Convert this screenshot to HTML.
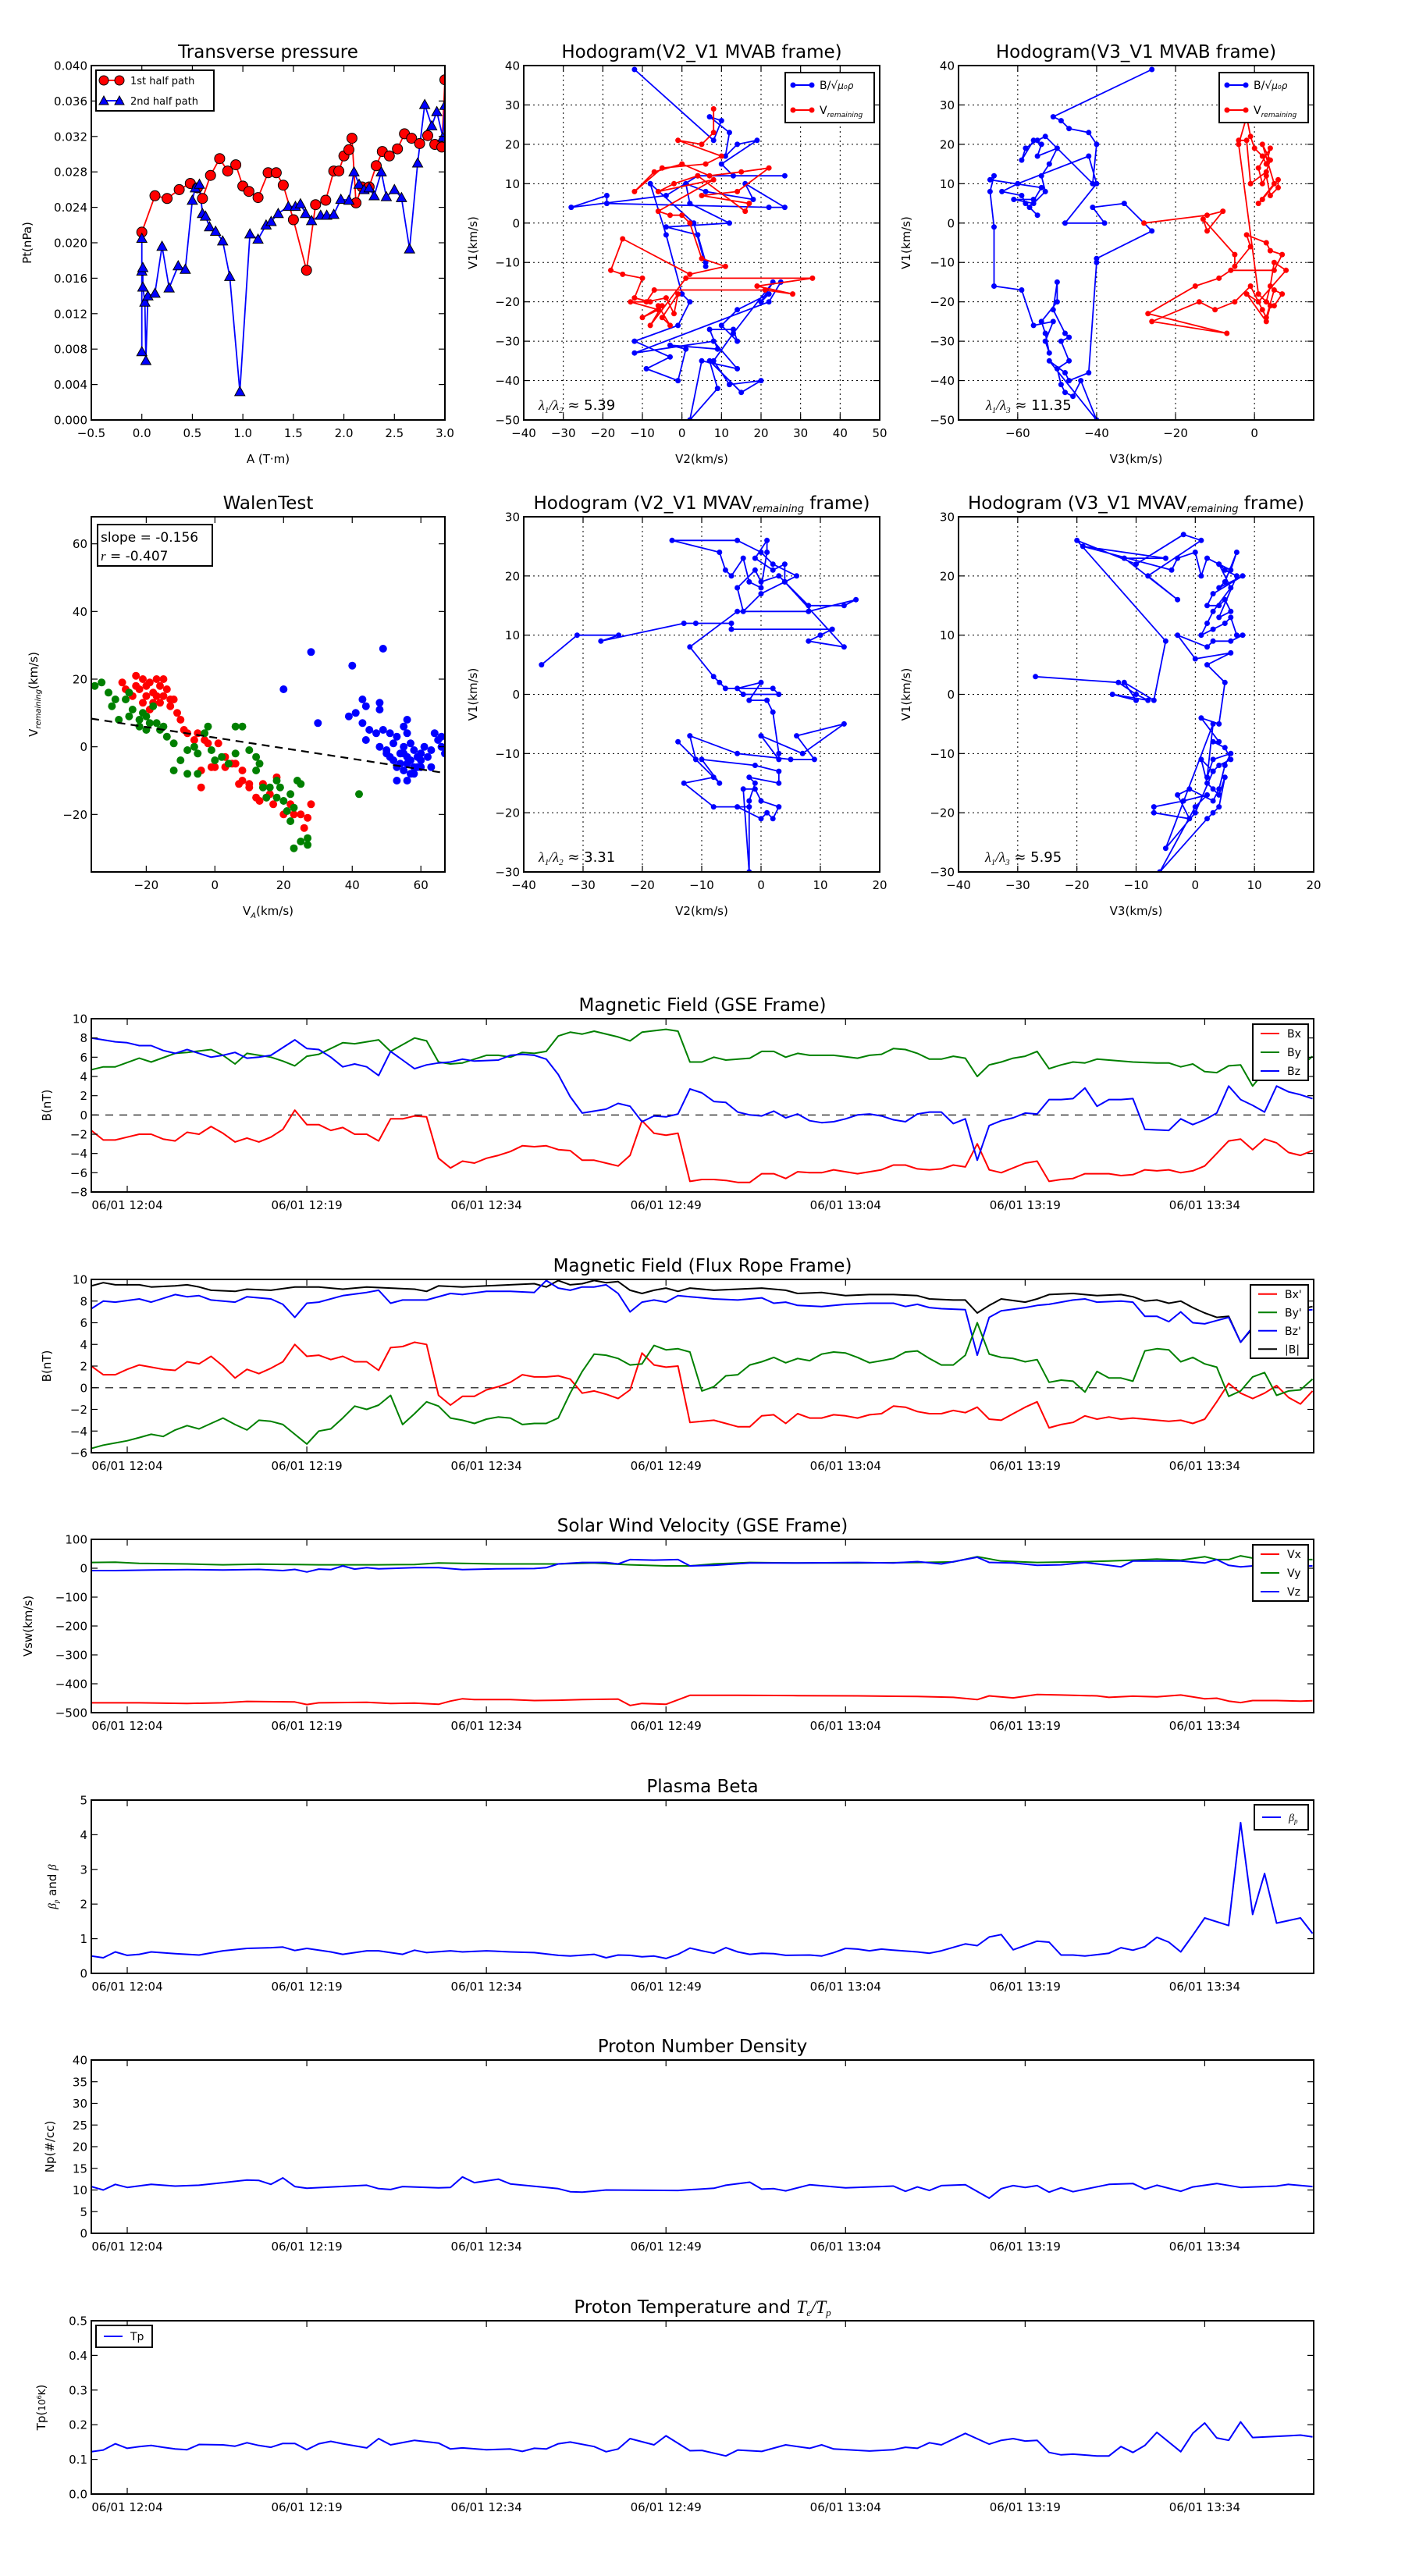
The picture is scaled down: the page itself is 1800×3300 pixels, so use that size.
<!DOCTYPE html>
<html><head><meta charset="utf-8"><title>Flux rope analysis</title>
<style>
html,body{margin:0;padding:0;background:#fff;}
svg{display:block;font-family:"DejaVu Sans","Liberation Sans",sans-serif;}
</style></head>
<body>
<svg id="fig" xmlns="http://www.w3.org/2000/svg" width="1800" height="3300" viewBox="0 0 1800 3300"></svg>
<script>
// ---------- DATA ----------
const ptFirstA=[0,0.13,0.25,0.37,0.48,0.55,0.6,0.68,0.77,0.85,0.93,1.0,1.06,1.15,1.25,1.33,1.4,1.5,1.63,1.72,1.82,1.9,1.95,2.0,2.05,2.08,2.12,2.18,2.25,2.32,2.38,2.45,2.53,2.6,2.67,2.75,2.83,2.9,2.97,3.0];
const ptFirstP=[0.0212,0.0253,0.025,0.026,0.0267,0.0262,0.025,0.0276,0.0295,0.0281,0.0288,0.0264,0.0258,0.0251,0.0279,0.0279,0.0265,0.0226,0.0169,0.0243,0.0248,0.0281,0.0281,0.0298,0.0305,0.0318,0.0245,0.0263,0.0263,0.0287,0.0303,0.0298,0.0306,0.0323,0.0318,0.0312,0.0321,0.0311,0.0308,0.0384];
const ptSecondA=[0,0,0,0.01,0.01,0.03,0.04,0.06,0.13,0.2,0.27,0.36,0.43,0.5,0.53,0.57,0.6,0.63,0.67,0.73,0.8,0.87,0.97,1.07,1.15,1.23,1.28,1.35,1.45,1.52,1.57,1.62,1.68,1.77,1.83,1.9,1.97,2.05,2.1,2.15,2.2,2.25,2.3,2.37,2.42,2.5,2.57,2.65,2.73,2.8,2.87,2.92,2.98,3.0];
const ptSecondP=[0.0077,0.0205,0.0168,0.0172,0.015,0.0133,0.0067,0.014,0.0143,0.0196,0.0149,0.0174,0.017,0.0248,0.0262,0.0266,0.0233,0.023,0.0218,0.0213,0.0202,0.0162,0.0032,0.021,0.0204,0.022,0.0224,0.0233,0.0241,0.0241,0.0244,0.0233,0.0225,0.0231,0.0231,0.0232,0.0249,0.0248,0.028,0.0266,0.026,0.0262,0.0253,0.028,0.0252,0.026,0.0251,0.0193,0.029,0.0356,0.0332,0.0348,0.0319,0.0355];

const hodoB21=[[-12,39],[8,21],[10,26],[7,27],[12,23],[11,17],[14,20],[19,21],[10,15],[13,12],[26,12],[4,12],[-4,7],[-28,4],[-19,7],[-19,5],[22,4],[26,4],[16,10],[18,6],[6,8],[1,10],[2,5],[12,0],[-4,-1],[4,-3],[6,-10],[6,-11],[3,0],[-8,10],[-4,-3],[0,-18],[2,-20],[-1,-26],[-12,-30],[-3,-34],[-9,-37],[-1,-40],[1,-32],[-3,-31],[9,-32],[7,-27],[13,-27],[14,-30],[10,-26],[14,-22],[22,-18],[20,-20],[23,-15],[13,-28],[8,-35],[12,-41],[20,-40],[15,-43],[7,-35],[9,-42],[2,-50],[5,-35],[14,-37],[8,-30],[-12,-33],[22,-20],[25,-15]];
const hodoV21=[[8,29],[8,23],[5,20],[-1,21],[10,17],[6,15],[-5,14],[-12,8],[-7,13],[0,15],[7,12],[15,13],[22,14],[14,8],[5,7],[17,5],[16,3],[4,12],[-2,10],[-6,8],[8,11],[-6,3],[-3,2],[0,2],[2,0],[5,-9],[11,-11],[2,-13],[-15,-4],[-18,-12],[-15,-13],[-10,-14],[-12,-19],[-8,-20],[-13,-20],[-6,-22],[-10,-24],[-5,-21],[-8,-26],[1,-14],[33,-14],[19,-16],[28,-18],[21,-17],[-7,-17],[-9,-20],[-4,-19],[-2,-23],[-1,-18],[-5,-24],[-3,-26],[-6,-21]];
const hodoB31=[[-26,39],[-51,27],[-49,26],[-47,24],[-42,23],[-40,20],[-41,10],[-53,22],[-55,21],[-58,19],[-59,16],[-56,21],[-54,20],[-55,17],[-50,19],[-52,15],[-54,12],[-53,8],[-56,5],[-61,6],[-56,6],[-57,4],[-54,9],[-67,11],[-66,12],[-67,8],[-66,-1],[-66,-16],[-59,-17],[-56,-26],[-51,-25],[-53,-30],[-52,-33],[-53,-28],[-54,-25],[-50,-20],[-50,-15],[-51,-22],[-48,-28],[-47,-29],[-49,-30],[-47,-35],[-50,-37],[-49,-41],[-48,-43],[-46,-44],[-44,-40],[-40,-50],[-52,-35],[-48,-38],[-47,-40],[-42,-38],[-40,-10],[-40,-9],[-26,-2],[-33,5],[-41,4],[-38,0],[-48,0],[-40,10],[-42,17],[-60,10],[-64,8],[-59,7],[-58,5],[-55,2]];
const hodoV31=[[-28,0],[-12,2],[-8,3],[-12,-2],[-13,1],[-5,-8],[-5,-11],[-1,-6],[-2,-3],[3,-5],[4,-7],[7,-8],[5,-12],[-6,-12],[-9,-14],[-15,-16],[-27,-23],[-7,-28],[-26,-25],[-14,-20],[-10,-22],[-5,-20],[-1,-16],[2,-22],[3,-24],[5,-17],[7,-18],[5,-21],[3,-20],[4,-16],[5,-10],[8,-12],[1,-20],[-2,-18],[3,-25],[4,-21],[1,-18],[-4,20],[-2,27],[-1,22],[0,19],[2,17],[3,15],[4,19],[1,14],[2,10],[3,12],[4,7],[6,9],[6,11],[2,6],[1,5],[5,10],[2,20],[4,16],[3,13],[-1,10],[-2,21],[-4,21]];

const walenRed=[[-23,21],[-21,20],[-20,18],[-22,17],[-19,19],[-18,16],[-17,20],[-16,18],[-15,15],[-14,17],[-20,15],[-23,18],[-18,13],[-17,15],[-16,13],[-13,12],[-12,14],[-10,8],[-9,5],[-11,10],[-8,4],[-6,2],[-5,4],[-3,2],[-2,1],[-4,-7],[-4,-12],[-1,-6],[0,-6],[3,-3],[5,-5],[6,-5],[8,-7],[8,-10],[7,-11],[10,-12],[12,-15],[13,-16],[15,-15],[17,-17],[16,-14],[20,-20],[22,-17],[23,-20],[25,-20],[26,-24],[27,-21],[28,-17],[18,-9],[10,-11],[14,-11],[-21,13],[-19,11],[-24,15],[-15,20],[-13,14],[-27,19],[-26,17],[1,1],[3,-6]];
const walenGreen=[[-35,18],[-33,19],[-31,16],[-29,14],[-30,12],[-26,14],[-24,11],[-25,9],[-22,8],[-20,9],[-18,12],[-20,5],[-22,6],[-17,7],[-16,5],[-15,6],[-14,3],[-12,1],[-10,-4],[-8,-1],[-6,0],[-5,-2],[-3,4],[-2,6],[-1,-1],[0,-4],[2,-3],[4,-5],[6,-2],[6,6],[8,6],[10,-1],[12,-7],[14,-12],[15,-15],[16,-12],[18,-15],[19,-12],[20,-16],[21,-19],[22,-14],[23,-18],[25,-11],[23,-30],[25,-28],[27,-27],[27,-29],[22,-22],[13,-5],[12,-3],[-8,-8],[-25,16],[-28,8],[-21,10],[-19,7],[-12,-7],[-5,-8],[42,-14],[18,-10],[24,-10]];
const walenBlue=[[20,17],[28,28],[30,7],[40,24],[49,29],[39,9],[41,10],[43,7],[43,14],[44,12],[48,13],[48,11],[45,5],[47,4],[44,2],[49,5],[51,4],[52,1],[50,-1],[53,3],[55,6],[56,4],[57,1],[58,-1],[59,-3],[60,-2],[61,0],[62,-3],[63,-1],[54,-5],[55,-7],[56,-5],[57,-8],[58,-6],[59,-6],[52,-4],[53,-6],[54,-2],[56,-3],[55,0],[57,-4],[60,-6],[60,-4],[64,4],[65,2],[66,0],[63,-6],[66,3],[50,-2],[51,-3],[58,-8],[55,-2],[53,-10],[56,-10],[56,8],[48,0],[67,-2]];
const walenSlope=-0.156, walenIntercept=2.7;

const mvavV21=[[-37,5],[-31,10],[-24,10],[-27,9],[-13,12],[-11,12],[-5,12],[-5,11],[12,11],[10,10],[8,9],[14,8],[4,19],[6,20],[2,22],[0,24],[-4,26],[-15,26],[-7,24],[-6,21],[-5,20],[-3,23],[-2,19],[0,18],[1,24],[1,26],[-1,23],[2,21],[4,22],[4,19],[0,17],[-3,14],[-4,18],[-1,21],[0,19],[3,20],[8,15],[14,15],[16,16],[8,14],[-4,14],[-12,8],[-8,3],[-7,2],[-6,1],[2,1],[3,0],[-3,0],[-4,1],[0,2],[-2,-1],[1,-1],[2,-3],[3,-10],[3,-11],[0,-7],[7,-10],[14,-5],[6,-7],[9,-11],[5,-11],[-4,-10],[-12,-7],[-11,-11],[-8,-14],[-13,-15],[-8,-19],[-2,-19],[-4,-19],[0,-21],[1,-20],[2,-21],[3,-19],[0,-18],[-1,-16],[-3,-16],[-2,-30],[-2,-18],[-1,-15],[-2,-14],[3,-15],[3,-13],[-1,-12],[-10,-11],[-7,-15],[-14,-8]];
const mvavV31=[[-27,3],[-13,2],[-10,0],[-8,-1],[-14,0],[-10,-1],[-12,2],[-7,-1],[-5,9],[-20,26],[-10,22],[-2,27],[1,26],[-8,20],[-3,16],[-12,23],[-5,23],[-19,25],[-4,21],[-3,23],[0,24],[1,20],[2,23],[4,22],[6,21],[7,24],[5,19],[4,18],[8,20],[3,17],[2,15],[4,15],[5,16],[6,14],[4,13],[7,20],[5,21],[4,22],[6,18],[3,14],[2,12],[1,10],[3,11],[5,12],[6,13],[7,10],[8,10],[6,9],[3,9],[2,8],[-3,10],[0,6],[6,7],[2,5],[5,2],[4,-5],[1,-4],[4,-8],[3,-8],[5,-9],[6,-11],[4,-12],[3,-13],[1,-11],[2,-15],[3,-16],[4,-17],[5,-14],[4,-19],[3,-20],[2,-21],[-6,-30],[0,-19],[2,-17],[-2,-18],[-7,-19],[-7,-20],[-1,-21],[-3,-17],[-1,-16],[3,-18],[4,-16],[5,-12],[6,-10],[3,-11],[2,-14],[3,-5],[-5,-26],[0,-20],[3,-13]];

// time series (minute after 12:00, value)
const gseBx=[[1,-1.6],[2,-2.6],[3,-2.6],[4,-2.3],[5,-2],[6,-2],[7,-2.5],[8,-2.7],[9,-1.8],[10,-2],[11,-1.2],[12,-1.9],[13,-2.8],[14,-2.4],[15,-2.8],[16,-2.3],[17,-1.5],[18,0.5],[19,-1],[20,-1],[21,-1.6],[22,-1.3],[23,-2],[24,-2],[25,-2.7],[26,-0.4],[27,-0.4],[28,-0.1],[29,-0.2],[30,-4.5],[31,-5.5],[32,-4.8],[33,-5],[34,-4.5],[35,-4.2],[36,-3.8],[37,-3.2],[38,-3.3],[39,-3.2],[40,-3.6],[41,-3.7],[42,-4.7],[43,-4.7],[44,-5],[45,-5.3],[46,-4.2],[47,-0.6],[48,-1.9],[49,-2.1],[50,-1.9],[51,-6.9],[52,-6.7],[53,-6.7],[54,-6.8],[55,-7],[56,-7],[57,-6.1],[58,-6.1],[59,-6.6],[60,-5.9],[61,-6],[62,-6],[63,-5.7],[64,-5.9],[65,-6.1],[66,-5.9],[67,-5.7],[68,-5.2],[69,-5.2],[70,-5.6],[71,-5.7],[72,-5.6],[73,-5.2],[74,-5.4],[75,-3],[76,-5.7],[77,-6],[78,-5.5],[79,-5],[80,-4.8],[81,-6.9],[82,-6.7],[83,-6.6],[84,-6.1],[85,-6.1],[86,-6.1],[87,-6.3],[88,-6.2],[89,-5.7],[90,-5.8],[91,-5.7],[92,-6],[93,-5.8],[94,-5.3],[95,-4],[96,-2.7],[97,-2.5],[98,-3.6],[99,-2.5],[100,-2.9],[101,-3.9],[102,-4.2],[103,-3.7]];
const gseBy=[[1,4.7],[2,5],[3,5],[5,5.9],[6,5.5],[8,6.4],[9,6.5],[11,6.8],[12,6.2],[13,5.3],[14,6.4],[16,6],[17,5.6],[18,5.1],[19,6.1],[20,6.3],[22,7.5],[23,7.4],[25,7.8],[26,6.6],[28,8],[29,7.7],[30,5.5],[31,5.3],[32,5.4],[34,6.2],[35,6.2],[36,6],[37,6.5],[38,6.4],[39,6.6],[40,8.2],[41,8.6],[42,8.4],[43,8.7],[45,8.1],[46,7.7],[47,8.6],[49,8.9],[50,8.7],[51,5.5],[52,5.5],[53,6],[54,5.7],[56,5.9],[57,6.6],[58,6.6],[59,6],[60,6.4],[61,6.2],[63,6.2],[65,5.9],[66,6.2],[67,6.3],[68,6.9],[69,6.8],[70,6.4],[71,5.8],[72,5.8],[73,6.1],[74,5.9],[75,4],[76,5.2],[77,5.5],[78,5.9],[79,6.1],[80,6.6],[81,4.8],[82,5.2],[83,5.5],[84,5.4],[85,5.8],[87,5.6],[88,5.5],[90,5.4],[91,5.4],[92,5],[93,5.3],[94,4.5],[95,4.4],[96,5.1],[97,5.2],[98,3],[99,4.5],[100,5.3],[102,5],[103,6.1]];
const gseBz=[[1,8],[2,7.8],[3,7.6],[4,7.5],[5,7.2],[6,7.2],[7,6.7],[8,6.4],[9,6.8],[10,6.4],[11,6],[12,6.2],[13,6.5],[14,5.9],[15,6],[16,6.2],[17,7],[18,7.8],[19,6.9],[20,6.8],[21,6],[22,5],[23,5.3],[24,5],[25,4.1],[26,6.6],[27,5.7],[28,4.8],[29,5.2],[30,5.4],[31,5.5],[32,5.8],[33,5.6],[35,5.7],[36,6.2],[37,6.3],[38,6.2],[39,5.8],[40,4.2],[41,1.9],[42,0.2],[43,0.4],[44,0.6],[45,1.2],[46,0.9],[47,-0.7],[48,-0.1],[49,-0.2],[50,0.1],[51,2.7],[52,2.3],[53,1.4],[54,1.3],[55,0.3],[56,0],[57,-0.1],[58,0.4],[59,-0.3],[60,0.1],[61,-0.6],[62,-0.8],[63,-0.7],[64,-0.4],[65,0],[66,0.1],[67,-0.1],[68,-0.5],[69,-0.7],[70,0.1],[71,0.3],[72,0.3],[73,-0.9],[74,-0.4],[75,-4.7],[76,-1.1],[77,-0.6],[78,-0.3],[79,0.2],[80,0.1],[81,1.6],[82,1.6],[83,1.7],[84,2.8],[85,0.9],[86,1.6],[87,1.6],[88,1.7],[89,-1.5],[91,-1.6],[92,-0.4],[93,-1],[94,-0.5],[95,0.2],[96,3],[97,1.6],[98,1],[99,0.3],[100,3],[101,2.4],[102,2.1],[103,1.7]];

const frBx=[[1,2.0],[2,1.2],[3,1.2],[4,1.7],[5,2.1],[6,1.9],[7,1.7],[8,1.6],[9,2.4],[10,2.2],[11,2.9],[12,2.0],[13,0.9],[14,1.7],[15,1.3],[16,1.8],[17,2.4],[18,4.0],[19,2.9],[20,3.0],[21,2.6],[22,2.9],[23,2.4],[24,2.4],[25,1.6],[26,3.7],[27,3.8],[28,4.2],[29,4.0],[30,-0.7],[31,-1.6],[32,-0.8],[33,-0.8],[34,-0.2],[35,0.1],[36,0.5],[37,1.2],[38,1.0],[39,1.0],[40,1.1],[41,0.8],[42,-0.5],[43,-0.3],[44,-0.6],[45,-1.0],[46,-0.2],[47,3.2],[48,2.1],[49,1.9],[50,2.0],[51,-3.2],[52,-3.1],[53,-3.0],[54,-3.3],[55,-3.6],[56,-3.6],[57,-2.6],[58,-2.5],[59,-3.3],[60,-2.4],[61,-2.8],[62,-2.8],[63,-2.5],[64,-2.6],[65,-2.8],[66,-2.5],[67,-2.4],[68,-1.7],[69,-1.8],[70,-2.2],[71,-2.4],[72,-2.4],[73,-2.1],[74,-2.3],[75,-1.8],[76,-2.9],[77,-3.0],[78,-2.4],[79,-1.8],[80,-1.3],[81,-3.7],[82,-3.4],[83,-3.2],[84,-2.6],[85,-2.9],[86,-2.7],[87,-2.9],[88,-2.8],[89,-2.9],[90,-3.0],[91,-3.1],[92,-3.0],[93,-3.3],[94,-2.9],[95,-1.3],[96,0.4],[97,-0.5],[98,-1.0],[99,-0.5],[100,0.2],[101,-0.9],[102,-1.5],[103,-0.3]];
const frBy=[[1,-5.6],[2,-5.3],[3,-5.1],[4,-4.9],[5,-4.6],[6,-4.3],[7,-4.5],[8,-3.9],[9,-3.5],[10,-3.8],[11,-3.3],[12,-2.8],[13,-3.4],[14,-3.9],[15,-3.0],[16,-3.1],[17,-3.4],[18,-4.3],[19,-5.2],[20,-4.0],[21,-3.8],[22,-2.8],[23,-1.7],[24,-2.0],[25,-1.6],[26,-0.7],[27,-3.4],[28,-2.4],[29,-1.3],[30,-1.7],[31,-2.8],[32,-3.0],[33,-3.3],[34,-2.9],[35,-2.7],[36,-2.8],[37,-3.4],[38,-3.3],[39,-3.3],[40,-2.8],[41,-0.5],[42,1.5],[43,3.1],[44,3.0],[45,2.7],[46,2.1],[47,2.2],[48,3.9],[49,3.5],[50,3.6],[51,3.3],[52,-0.3],[53,0.1],[54,1.1],[55,1.2],[56,2.1],[57,2.4],[58,2.8],[59,2.3],[60,2.7],[61,2.5],[62,3.1],[63,3.3],[64,3.2],[65,2.8],[66,2.3],[67,2.5],[68,2.7],[69,3.3],[70,3.4],[71,2.7],[72,2.1],[73,2.1],[74,3.0],[75,6.0],[76,3.1],[77,2.8],[78,2.7],[79,2.4],[80,2.6],[81,0.5],[82,0.7],[83,0.6],[84,-0.4],[85,1.5],[86,0.9],[87,0.9],[88,0.6],[89,3.4],[90,3.6],[91,3.5],[92,2.4],[93,2.8],[94,2.2],[95,1.9],[96,-0.8],[97,-0.3],[98,1.0],[99,1.4],[100,-0.7],[101,-0.3],[102,-0.2],[103,0.8]];
const frBz=[[1,7.3],[2,8.0],[3,7.9],[5,8.2],[6,7.9],[8,8.6],[9,8.4],[10,8.5],[11,8.1],[13,7.9],[14,8.4],[16,8.2],[17,7.7],[18,6.5],[19,7.8],[20,7.9],[22,8.5],[24,8.8],[25,9.0],[26,7.8],[27,8.1],[29,8.1],[31,8.7],[32,8.6],[34,8.9],[36,8.9],[38,8.8],[39,9.9],[40,9.2],[41,9.0],[42,9.3],[43,9.3],[44,9.5],[45,8.7],[46,7.0],[47,7.9],[48,8.1],[49,7.9],[50,8.5],[51,8.4],[53,8.2],[55,8.1],[57,8.3],[58,7.8],[59,7.9],[60,7.6],[62,7.5],[64,7.7],[66,7.8],[68,7.8],[69,7.5],[70,7.7],[71,7.4],[72,7.3],[74,7.2],[75,3.0],[76,6.5],[77,7.1],[79,7.4],[80,7.6],[81,7.7],[83,8.1],[84,8.2],[85,7.9],[87,8.0],[88,7.9],[89,6.6],[90,6.6],[91,6.1],[92,7.0],[93,6.0],[94,5.9],[95,6.2],[96,6.5],[97,4.2],[98,5.6],[99,6.8],[103,7.2]];
const frBt=[[1,9.4],[2,9.7],[3,9.5],[5,9.5],[6,9.3],[8,9.4],[9,9.5],[10,9.3],[11,9.0],[13,8.9],[14,9.1],[16,9.0],[18,9.3],[20,9.3],[22,9.1],[24,9.3],[26,9.2],[28,9.1],[29,8.9],[30,9.4],[32,9.3],[34,9.4],[36,9.5],[38,9.6],[39,9.3],[40,9.9],[41,9.5],[42,9.6],[43,9.9],[44,9.7],[45,9.8],[46,9.0],[47,8.7],[48,9.0],[49,9.2],[50,8.9],[51,9.2],[53,9.0],[55,9.1],[57,9.2],[59,9.0],[60,8.7],[62,8.8],[64,8.5],[66,8.6],[68,8.6],[70,8.5],[71,8.2],[73,8.1],[74,8.1],[75,6.9],[76,7.6],[77,8.2],[79,7.9],[80,8.2],[81,8.6],[83,8.7],[85,8.5],[87,8.6],[88,8.4],[89,8.0],[90,8.1],[91,7.8],[92,8.0],[93,7.4],[94,6.9],[95,6.5],[96,6.6],[97,4.2],[98,5.5],[99,7.0],[101,7.0],[103,7.5]];

const velVx=[[1,-466],[5,-466],[9,-468],[12,-466],[14,-461],[18,-463],[19,-472],[20,-466],[24,-464],[26,-468],[28,-467],[30,-471],[31,-460],[32,-452],[33,-455],[36,-455],[38,-458],[40,-457],[42,-455],[45,-453],[46,-475],[47,-468],[49,-471],[51,-440],[55,-440],[60,-441],[65,-442],[70,-444],[73,-447],[75,-455],[76,-442],[78,-449],[80,-437],[82,-439],[85,-442],[86,-447],[88,-443],[90,-445],[92,-439],[94,-452],[95,-450],[96,-460],[97,-465],[98,-458],[100,-458],[102,-460],[103,-459]];
const velVy=[[1,20],[3,21],[5,17],[9,15],[12,12],[15,14],[18,13],[20,12],[22,12],[25,12],[28,13],[30,18],[35,15],[40,15],[43,18],[46,12],[49,8],[51,8],[53,15],[56,20],[60,18],[65,18],[70,20],[73,22],[75,40],[77,25],[80,20],[83,22],[86,25],[88,28],[90,32],[92,28],[94,40],[95,30],[96,30],[97,43],[98,35],[100,30],[103,30]];
const velVz=[[1,-8],[3,-8],[6,-6],[9,-5],[12,-6],[15,-4],[17,-8],[18,-4],[19,-13],[20,-3],[21,-5],[22,8],[23,-3],[24,2],[25,-2],[28,2],[30,2],[32,-5],[35,-2],[38,-1],[39,2],[40,15],[42,20],[44,20],[45,15],[46,30],[48,28],[50,30],[51,8],[53,10],[56,18],[60,18],[65,20],[68,18],[70,23],[72,15],[75,38],[76,20],[78,18],[80,10],[82,12],[84,20],[86,10],[87,5],[88,25],[90,25],[92,25],[94,18],[95,30],[96,10],[97,5],[98,8],[100,5],[103,8]];

const betaP=[[1,0.5],[2,0.45],[3,0.62],[4,0.52],[5,0.55],[6,0.62],[8,0.57],[10,0.53],[12,0.65],[14,0.72],[16,0.74],[17,0.76],[18,0.66],[19,0.72],[21,0.62],[22,0.55],[24,0.65],[25,0.65],[26,0.6],[27,0.55],[28,0.67],[29,0.6],[31,0.65],[32,0.62],[34,0.65],[36,0.62],[38,0.6],[40,0.52],[41,0.5],[43,0.55],[44,0.45],[45,0.53],[46,0.52],[47,0.48],[48,0.5],[49,0.43],[50,0.55],[51,0.73],[52,0.65],[53,0.58],[54,0.74],[55,0.62],[56,0.55],[57,0.58],[58,0.57],[59,0.52],[61,0.53],[62,0.5],[63,0.6],[64,0.72],[65,0.7],[66,0.65],[67,0.7],[68,0.67],[70,0.62],[71,0.58],[72,0.65],[73,0.75],[74,0.85],[75,0.8],[76,1.05],[77,1.12],[78,0.68],[80,0.93],[81,0.9],[82,0.53],[83,0.53],[84,0.5],[86,0.58],[87,0.74],[88,0.67],[89,0.77],[90,1.04],[91,0.9],[92,0.62],[93,1.1],[94,1.6],[96,1.38],[97,4.35],[98,1.7],[99,2.88],[100,1.45],[102,1.6],[103,1.15]];
const densNp=[[1,10.8],[2,10],[3,11.3],[4,10.6],[6,11.3],[8,10.9],[10,11.1],[12,11.7],[14,12.3],[15,12.2],[16,11.3],[17,12.8],[18,10.8],[19,10.4],[24,11.1],[25,10.3],[26,10.1],[27,10.8],[30,10.5],[31,10.6],[32,13],[33,11.7],[35,12.5],[36,11.4],[40,10.3],[41,9.6],[42,9.5],[44,10],[50,9.9],[53,10.4],[54,11.1],[56,11.8],[57,10.2],[58,10.3],[59,9.8],[61,11.2],[64,10.5],[68,10.9],[69,9.7],[70,10.7],[71,9.9],[72,11.0],[74,11.2],[76,8.1],[77,10.3],[78,11],[79,10.6],[80,11],[81,9.5],[82,10.5],[83,9.6],[86,11.3],[88,11.5],[89,10.2],[90,11.1],[92,9.7],[93,10.7],[95,11.5],[97,10.6],[100,10.9],[101,11.3],[103,10.8]];
const tempTp=[[1,0.122],[2,0.127],[3,0.145],[4,0.132],[5,0.137],[6,0.14],[7,0.135],[8,0.13],[9,0.128],[10,0.143],[12,0.142],[13,0.138],[14,0.148],[15,0.14],[16,0.135],[17,0.146],[18,0.146],[19,0.128],[20,0.145],[21,0.152],[22,0.145],[24,0.133],[25,0.16],[26,0.142],[28,0.155],[30,0.147],[31,0.13],[32,0.133],[34,0.128],[36,0.13],[37,0.123],[38,0.132],[39,0.13],[40,0.145],[41,0.15],[43,0.137],[44,0.122],[45,0.13],[46,0.16],[48,0.142],[49,0.168],[51,0.125],[52,0.126],[54,0.11],[55,0.127],[57,0.123],[59,0.142],[61,0.132],[62,0.142],[63,0.13],[66,0.124],[68,0.128],[69,0.135],[70,0.132],[71,0.148],[72,0.142],[74,0.175],[76,0.144],[77,0.155],[78,0.16],[79,0.153],[80,0.155],[81,0.12],[82,0.113],[83,0.115],[85,0.11],[86,0.11],[87,0.137],[88,0.12],[89,0.14],[90,0.178],[92,0.122],[93,0.175],[94,0.205],[95,0.162],[96,0.155],[97,0.208],[98,0.163],[101,0.168],[102,0.17],[103,0.165]];

const timeTicks=[4,19,34,49,64,79,94];
const timeTickLabels=['06/01 12:04','06/01 12:19','06/01 12:34','06/01 12:49','06/01 13:04','06/01 13:19','06/01 13:34'];

// ---------- HELPERS ----------
const NS='http://www.w3.org/2000/svg';
const svg=document.getElementById('fig');
let clipId=0;
function mk(tag,attrs,parent){const e=document.createElementNS(NS,tag);for(const k in attrs)e.setAttribute(k,attrs[k]);(parent||svg).appendChild(e);return e;}
function txt(parent,x,y,s,size,anchor,extra){const t=mk('text',Object.assign({x:x,y:y,'font-size':size,'text-anchor':anchor||'middle',fill:'#000'},extra||{}),parent);t.textContent=s;return t;}
function fmt(v,d){const s=v.toFixed(d);return v<0?'\u2212'+s.slice(1):s;}
function range(a,b,st){const r=[];for(let v=a;v<=b+1e-9;v+=st)r.push(+v.toFixed(6));return r;}

function makeAxes(o){
  const g=mk('g',{});
  
  
  const sx=v=>o.x+(v-o.xr[0])/(o.xr[1]-o.xr[0])*o.w;
  const sy=v=>o.y+o.h-(v-o.yr[0])/(o.yr[1]-o.yr[0])*o.h;
  const cid='clip'+(clipId++);
  const cp=mk('clipPath',{id:cid},g);mk('rect',{x:o.x,y:o.y,width:o.w,height:o.h},cp);
  if(o.grid){
    o.xticks.forEach(v=>{const l=mk('line',{x1:sx(v),x2:sx(v),y1:o.y,y2:o.y+o.h,stroke:'#000','stroke-width':1,'stroke-dasharray':'2,4'},g);});
    o.yticks.forEach(v=>{const l=mk('line',{x1:o.x,x2:o.x+o.w,y1:sy(v),y2:sy(v),stroke:'#000','stroke-width':1,'stroke-dasharray':'2,4'},g);});
  }
  const plot=mk('g',{'clip-path':'url(#'+cid+')'},g);
  
  
  const ticks=mk('g',{stroke:'#000','stroke-width':1.2},g);
  
  
  const xl=mk('g',{},g);
  const yl=mk('g',{},g);
  o.xticks.forEach((v,i)=>{const X=sx(v);
    mk('line',{x1:X,x2:X,y1:o.y+o.h,y2:o.y+o.h-8},ticks);mk('line',{x1:X,x2:X,y1:o.y,y2:o.y+8},ticks);
    txt(xl,X,o.y+o.h+22,o.xlabels?o.xlabels[i]:fmt(v,o.xd||0),15);});
  o.yticks.forEach((v,i)=>{const Y=sy(v);
    mk('line',{x1:o.x,x2:o.x+8,y1:Y,y2:Y},ticks);mk('line',{x1:o.x+o.w,x2:o.x+o.w-8,y1:Y,y2:Y},ticks);
    txt(yl,o.x-5,Y+5.5,fmt(v,o.yd||0),15,'end');});
  const frame=mk('rect',{x:o.x,y:o.y,width:o.w,height:o.h,fill:'none',stroke:'#000','stroke-width':2},g);
  
  
  if(o.title){const t=txt(g,o.x+o.w/2,o.y-10,'',23);t.innerHTML=o.title;}
  if(o.xlabel){const t=txt(g,o.x+o.w/2,o.y+o.h+55,'',15);t.innerHTML=o.xlabel;}
  if(o.ylabel){const t=txt(g,0,0,'',15,'middle',{transform:'translate('+o.ylx+','+(o.y+o.h/2)+') rotate(-90)'});t.innerHTML=o.ylabel;}
  return {g,sx,sy,plot,o};
}
function line(ax,pts,color,name,w,dash){const d=pts.map((p,i)=>(i?'L':'M')+ax.sx(p[0]).toFixed(1)+' '+ax.sy(p[1]).toFixed(1)).join('');
  const p=mk('path',{d:d,fill:'none',stroke:color,'stroke-width':w||2,'stroke-linejoin':'round'},ax.plot);if(dash)p.setAttribute('stroke-dasharray',dash);
  return p;}
function dots(ax,pts,color,r,name,edge){const g=mk('g',{},ax.plot);
  pts.forEach(p=>{const c=mk('circle',{cx:ax.sx(p[0]).toFixed(1),cy:ax.sy(p[1]).toFixed(1),r:r,fill:color,stroke:edge||color,'stroke-width':edge?1:0},g);});return g;}
function tris(ax,pts,color,s,name){const g=mk('g',{},ax.plot);
  pts.forEach(p=>{const X=ax.sx(p[0]),Y=ax.sy(p[1]);const t=mk('polygon',{points:`${X},${Y-s} ${X-s},${Y+s*0.8} ${X+s},${Y+s*0.8}`,fill:color,stroke:'#000','stroke-width':1},g);});return g;}
function legend(x,y,w,h,entries,name,mark){const g=mk('g',{});
  mk('rect',{x:x,y:y,width:w,height:h,fill:'#fff',stroke:'#000','stroke-width':2},g);
  const step=h/entries.length;
  entries.forEach((e,i)=>{const cy=y+step*(i+0.5);const eg=mk('g',{},g);
    mk('line',{x1:x+10,x2:x+34,y1:cy,y2:cy,stroke:e[1],'stroke-width':2},eg);
    if(mark==='dot'){mk('circle',{cx:x+10,cy:cy,r:3.5,fill:e[1]},eg);mk('circle',{cx:x+34,cy:cy,r:3.5,fill:e[1]},eg);}
    if(mark==='bigdot'){mk('circle',{cx:x+10,cy:cy,r:6,fill:e[1],stroke:'#000'},eg);mk('circle',{cx:x+30,cy:cy,r:6,fill:e[1],stroke:'#000'},eg);}
    const t=txt(eg,x+44,cy+5,'',mark==='bigdot'?13:14,'start');t.innerHTML=e[0];});
  return g;}
const pairs=(a,b)=>a.map((v,i)=>[v,b[i]]);

// ---------- TOP ROW ----------
const TOP={y:84,h:454}, ROW2={y:662,h:455};
const a1=makeAxes({name:'transverse-pressure-chart',x:117,y:TOP.y,w:453,h:TOP.h,xr:[-0.5,3.0],yr:[0,0.04],xticks:range(-0.5,3.0,0.5),yticks:range(0,0.04,0.004),xd:1,yd:3,title:'Transverse pressure',xlabel:'A (T·m)',ylabel:'Pt(nPa)',ylx:40});
line(a1,pairs(ptFirstA,ptFirstP),'#ff0000','first-half-line',1.8);
line(a1,pairs(ptSecondA,ptSecondP),'#0000ff','second-half-line',1.8);
dots(a1,pairs(ptFirstA,ptFirstP),'#ff0000',6.5,'first-half-markers','#000');
tris(a1,pairs(ptSecondA,ptSecondP),'#0000ff',6.5,'second-half-markers');
legend(123,90,151,52,[['1st half path','#ff0000'],['2nd half path','#0000ff']],'pressure-legend','bigdot');
(function(){const lg=svg.lastChild;const e2=lg.querySelectorAll('g')[1];e2.querySelectorAll('circle').forEach(c=>c.remove());const cy=90+52*0.75;[133,153].forEach(X=>mk('polygon',{points:`${X},${cy-6} ${X-6},${cy+5} ${X+6},${cy+5}`,fill:'#0000ff',stroke:'#000'},e2));})();

const a2=makeAxes({name:'hodogram-v2-v1-mvab',x:671,y:TOP.y,w:456,h:TOP.h,xr:[-40,50],yr:[-50,40],xticks:range(-40,50,10),yticks:range(-50,40,10),grid:true,title:'Hodogram(V2_V1 MVAB frame)',xlabel:'V2(km/s)',ylabel:'V1(km/s)',ylx:611});
line(a2,hodoB21,'#0000ff','b-path',1.8);dots(a2,hodoB21,'#0000ff',3.5,'b-points');
line(a2,hodoV21,'#ff0000','v-path',1.8);dots(a2,hodoV21,'#ff0000',3.5,'v-points');
legend(1006,93,114,64,[['B/√<tspan font-style="italic" font-size="12">μ₀ρ</tspan>','#0000ff'],['V<tspan font-size="9" font-style="italic" dy="4">remaining</tspan>','#ff0000']],'hodogram1-legend','dot');
txt(a2.g,690,525,'',18,'start').innerHTML='<tspan font-style="italic" font-family="Liberation Serif">λ<tspan font-size="11" dy="4">1</tspan><tspan dy="-4">/λ</tspan><tspan font-size="11" dy="4">2</tspan></tspan><tspan dy="-4"> ≈ 5.39</tspan>';

const a3=makeAxes({name:'hodogram-v3-v1-mvab',x:1228,y:TOP.y,w:455,h:TOP.h,xr:[-75,15],yr:[-50,40],xticks:[-60,-40,-20,0],yticks:range(-50,40,10),grid:true,title:'Hodogram(V3_V1 MVAB frame)',xlabel:'V3(km/s)',ylabel:'V1(km/s)',ylx:1166});
line(a3,hodoB31,'#0000ff','b-path',1.8);dots(a3,hodoB31,'#0000ff',3.5,'b-points');
line(a3,hodoV31,'#ff0000','v-path',1.8);dots(a3,hodoV31,'#ff0000',3.5,'v-points');
legend(1562,93,114,64,[['B/√<tspan font-style="italic" font-size="12">μ₀ρ</tspan>','#0000ff'],['V<tspan font-size="9" font-style="italic" dy="4">remaining</tspan>','#ff0000']],'hodogram2-legend','dot');
txt(a3.g,1263,525,'',18,'start').innerHTML='<tspan font-style="italic" font-family="Liberation Serif">λ<tspan font-size="11" dy="4">1</tspan><tspan dy="-4">/λ</tspan><tspan font-size="11" dy="4">3</tspan></tspan><tspan dy="-4"> ≈ 11.35</tspan>';

// ---------- ROW 2 ----------
const a4=makeAxes({name:'walen-test-chart',x:117,y:ROW2.y,w:453,h:ROW2.h,xr:[-36,67],yr:[-37,68],xticks:[-20,0,20,40,60],yticks:[-20,0,20,40,60],title:'WalenTest',xlabel:'V<tspan font-size="10" font-style="italic" dy="4">A</tspan><tspan dy="-4">(km/s)</tspan>',ylabel:'V<tspan font-size="10" font-style="italic" dy="4">remaining</tspan><tspan dy="-4">(km/s)</tspan>',ylx:48});
dots(a4,walenRed,'#ff0000',5,'walen-red-points');
dots(a4,walenGreen,'#008000',5,'walen-green-points');
dots(a4,walenBlue,'#0000ff',5,'walen-blue-points');
line(a4,[[-36,walenIntercept+walenSlope*-36],[67,walenIntercept+walenSlope*67]],'#000','walen-fit-line',2.2,'10,7');
(function(){const g=mk('g',{});
 mk('rect',{x:125,y:672,width:147,height:53,fill:'#fff',stroke:'#000','stroke-width':2},g);
 txt(g,129,694,'slope = -0.156',17,'start');
 txt(g,129,718,'',17,'start').innerHTML='<tspan font-style="italic" font-family="Liberation Serif">r</tspan> = -0.407';})();

const a5=makeAxes({name:'hodogram-v2-v1-mvav',x:671,y:ROW2.y,w:456,h:ROW2.h,xr:[-40,20],yr:[-30,30],xticks:range(-40,20,10),yticks:range(-30,30,10),grid:true,title:'Hodogram (V2_V1 MVAV<tspan font-size="13" font-style="italic" dy="4">remaining</tspan><tspan dy="-4"> frame)</tspan>',xlabel:'V2(km/s)',ylabel:'V1(km/s)',ylx:611});
line(a5,mvavV21,'#0000ff','v-path',1.8);dots(a5,mvavV21,'#0000ff',3.5,'v-points');
txt(a5.g,690,1104,'',18,'start').innerHTML='<tspan font-style="italic" font-family="Liberation Serif">λ<tspan font-size="11" dy="4">1</tspan><tspan dy="-4">/λ</tspan><tspan font-size="11" dy="4">2</tspan></tspan><tspan dy="-4"> ≈ 3.31</tspan>';

const a6=makeAxes({name:'hodogram-v3-v1-mvav',x:1228,y:ROW2.y,w:455,h:ROW2.h,xr:[-40,20],yr:[-30,30],xticks:range(-40,20,10),yticks:range(-30,30,10),grid:true,title:'Hodogram (V3_V1 MVAV<tspan font-size="13" font-style="italic" dy="4">remaining</tspan><tspan dy="-4"> frame)</tspan>',xlabel:'V3(km/s)',ylabel:'V1(km/s)',ylx:1166});
line(a6,mvavV31,'#0000ff','v-path',1.8);dots(a6,mvavV31,'#0000ff',3.5,'v-points');
txt(a6.g,1262,1104,'',18,'start').innerHTML='<tspan font-style="italic" font-family="Liberation Serif">λ<tspan font-size="11" dy="4">1</tspan><tspan dy="-4">/λ</tspan><tspan font-size="11" dy="4">3</tspan></tspan><tspan dy="-4"> ≈ 5.95</tspan>';

// ---------- TIME SERIES ----------
const TX=117, TW=1566, TH=222, TXR=[1,103.1];
function tAxes(name,y,yr,yticks,yd,title,ylabel,ylx){return makeAxes({name:name,x:TX,y:y,w:TW,h:TH,xr:TXR,yr:yr,xticks:timeTicks,xlabels:timeTickLabels,yticks:yticks,yd:yd,title:title,ylabel:ylabel,ylx:ylx});}
function zero(ax){line(ax,[[TXR[0],0],[TXR[1],0]],'#000','zero-line',1.2,'10,8');}

const t1=tAxes('magnetic-field-gse-chart',1305,[-8,10],range(-8,10,2),0,'Magnetic Field (GSE Frame)','B(nT)',65);
zero(t1);line(t1,gseBx,'#ff0000','bx-line');line(t1,gseBy,'#008000','by-line');line(t1,gseBz,'#0000ff','bz-line');
legend(1605,1312,71,72,[['Bx','#ff0000'],['By','#008000'],['Bz','#0000ff']],'gse-legend');

const t2=tAxes('magnetic-field-flux-rope-chart',1639,[-6,10],range(-6,10,2),0,'Magnetic Field (Flux Rope Frame)','B(nT)',65);
zero(t2);line(t2,frBt,'#000','btotal-line');line(t2,frBz,'#0000ff','bz-prime-line');line(t2,frBx,'#ff0000','bx-prime-line');line(t2,frBy,'#008000','by-prime-line');
legend(1602,1646,74,94,[["Bx'",'#ff0000'],["By'",'#008000'],["Bz'",'#0000ff'],['|B|','#000']],'flux-rope-legend');

const t3=tAxes('solar-wind-velocity-chart',1972,[-500,100],range(-500,100,100),0,'Solar Wind Velocity (GSE Frame)','Vsw(km/s)',41);
line(t3,velVx,'#ff0000','vx-line');line(t3,velVy,'#008000','vy-line');line(t3,velVz,'#0000ff','vz-line');
legend(1605,1979,71,72,[['Vx','#ff0000'],['Vy','#008000'],['Vz','#0000ff']],'velocity-legend');

const t4=tAxes('plasma-beta-chart',2306,[0,5],range(0,5,1),0,'Plasma Beta','<tspan font-style="italic" font-family="Liberation Serif">β<tspan font-size="9" dy="3">p</tspan></tspan><tspan dy="-3"> and </tspan><tspan font-style="italic" font-family="Liberation Serif">β</tspan>',72);
line(t4,betaP,'#0000ff','beta-line');
legend(1607,2312,69,32,[['<tspan font-style="italic" font-family="Liberation Serif">β<tspan font-size="9" dy="3">p</tspan></tspan>','#0000ff']],'beta-legend');

const t5=tAxes('proton-density-chart',2639,[0,40],range(0,40,5),0,'Proton Number Density','Np(#/cc)',69);
line(t5,densNp,'#0000ff','np-line');

const t6=tAxes('proton-temperature-chart',2973,[0,0.5],range(0,0.5,0.1),1,'Proton Temperature and <tspan font-style="italic" font-family="Liberation Serif">T<tspan font-size="13" dy="4">e</tspan><tspan dy="-4">/T</tspan><tspan font-size="13" dy="4">p</tspan></tspan>','Tp(<tspan font-size="12">10<tspan font-size="8" dy="-5">6</tspan><tspan dy="5">K</tspan></tspan>)',58);
line(t6,tempTp,'#0000ff','tp-line');
legend(123,2979,72,28,[['Tp','#0000ff']],'tp-legend');
</script>
</body></html>
